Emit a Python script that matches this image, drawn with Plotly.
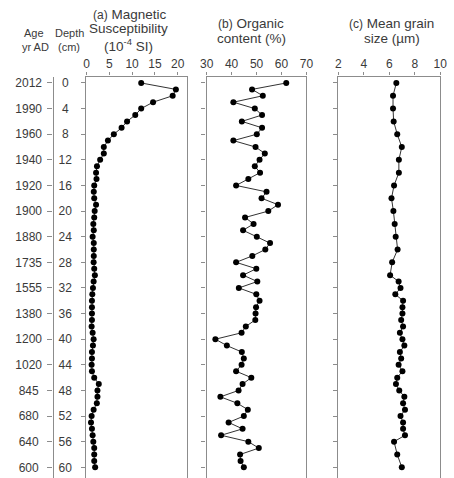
import plotly.graph_objects as go

# ---------------- data ----------------
depth = list(range(0, 61))

mag_sus = [12.0, 19.6, 18.9, 14.6, 12.0, 10.7, 8.9, 7.7, 6.0, 4.7,
           3.8, 3.8, 3.0, 2.3, 2.1, 2.2, 1.7, 1.6, 1.7, 2.1,
           1.8, 1.7, 1.5, 1.6, 1.35, 1.6, 1.6, 1.6, 1.57, 1.7,
           1.84, 1.57, 1.42, 1.28, 1.2, 1.2, 1.2, 1.2, 1.13, 1.35,
           1.57, 1.42, 1.2, 1.2, 1.13, 1.2, 1.7, 2.7, 2.41, 2.41,
           2.27, 1.57, 1.13, 0.99, 1.2, 1.35, 1.5, 1.7, 1.7, 1.7, 1.9]

organic = [61.9, 48.2, 52.5, 40.7, 49.3, 52.2, 44.1, 52.2, 50.1, 40.7,
           49.6, 53.3, 51.2, 49.3, 51.4, 46.7, 41.8, 54.0, 52.0, 58.6,
           54.7, 45.4, 48.8, 44.6, 50.1, 55.4, 53.5, 48.3, 41.8, 49.9,
           44.6, 50.3, 42.9, 49.9, 51.2, 49.8, 49.6, 49.5, 45.7, 44.0,
           33.5, 38.1, 44.1, 44.9, 44.0, 41.8, 47.9, 44.4, 42.8, 35.5,
           42.3, 46.5, 44.9, 38.8, 44.4, 35.8, 46.7, 50.9, 43.4, 43.6, 44.9]

grain_depth = [0, 2, 4, 6, 8, 10, 12, 14, 16, 18, 20, 22, 24, 26, 28, 30,
               31, 32, 33, 34, 35, 36, 37, 38, 39, 40, 41, 42, 43, 44, 45,
               46, 47, 48, 49, 50, 51, 52, 53, 54, 55, 56, 58, 60]
grain_size = [6.55, 6.29, 6.29, 6.34, 6.62, 6.98, 6.75, 6.75, 6.37, 6.17,
              6.32, 6.42, 6.5, 6.65, 6.22, 6.06,
              6.73, 6.88, 6.47, 7.08, 7.03, 7.03, 6.93, 7.08, 6.83, 7.03,
              7.18, 6.83, 6.93, 6.73, 7.03, 6.62, 6.52, 6.78, 7.18, 7.08,
              7.23, 6.88, 7.08, 7.08, 7.23, 6.37, 6.62, 6.98]

depth_ticks = [0, 4, 8, 12, 16, 20, 24, 28, 32, 36, 40, 44, 48, 52, 56, 60]
age_labels = ["2012", "1990", "1960", "1940", "1920", "1900", "1880", "1735",
              "1555", "1380", "1200", "1020", "845", "680", "640", "600"]

ticks_a = [0, 5, 10, 15, 20]
ticks_b = [30, 40, 50, 60, 70]
ticks_c = [2, 4, 6, 8, 10]

# ---------------- layout helpers ----------------
W, H = 454, 478
def px(x):
    return x / W
def py(y):
    return 1 - y / H

FONT = "Liberation Sans, Arial, sans-serif"
FRAME = "#8c8c8c"
TXT = "#3a3a3a"
y_range = [61.67, -1.01]
y_dom = [0, py(76.5)]

marker = dict(color="black", size=6)
line = dict(color="#333333", width=1)

fig = go.Figure()
fig.add_trace(go.Scatter(x=mag_sus, y=depth, xaxis="x", yaxis="y",
                         mode="lines+markers", marker=marker, line=line))
fig.add_trace(go.Scatter(x=organic, y=depth, xaxis="x2", yaxis="y2",
                         mode="lines+markers", marker=marker, line=line))
fig.add_trace(go.Scatter(x=grain_size, y=grain_depth, xaxis="x3", yaxis="y3",
                         mode="lines+markers", marker=marker, line=line))

def xax(dom, rng, tv, anchor):
    return dict(domain=[px(dom[0]), px(dom[1])], range=rng, tickvals=tv,
                side="top", anchor=anchor, showline=True, linecolor=FRAME,
                linewidth=1.3, ticks="outside", ticklen=3, tickcolor=FRAME,
                showgrid=False, zeroline=False, mirror=False,
                tickfont=dict(family=FONT, size=12, color=TXT))

def yax(anchor, labels):
    d = dict(domain=y_dom, range=y_range, tickvals=depth_ticks,
             anchor=anchor, showline=True, linecolor=FRAME, linewidth=1.3,
             mirror=True, ticks="outside", ticklen=4, tickcolor=FRAME,
             showgrid=False, zeroline=False,
             tickfont=dict(family=FONT, size=12, color=TXT))
    if labels is None:
        d["showticklabels"] = False
    else:
        d["ticktext"] = labels
        d["ticklabelstandoff"] = 7
    return d

depth_text = [(str(d) + "\u00a0") if d < 10 else str(d) for d in depth_ticks]
age_text = [(a + "\u00a0") if len(a) == 3 else a for a in age_labels]

fig.update_layout(
    width=W, height=H, margin=dict(l=0, r=0, t=0, b=0),
    paper_bgcolor="white", plot_bgcolor="white", showlegend=False,
    xaxis=xax((82, 186), [0, 22.1], ticks_a, "y"),
    xaxis2=xax((206, 309), [30, 70], ticks_b, "y2"),
    xaxis3=xax((342, 447), [2, 10], ticks_c, "y3"),
    yaxis=yax("x", depth_text),
    yaxis2=yax("x2", None),
    yaxis3=yax("x3", None),
    yaxis4=dict(overlaying="y", anchor="free", position=px(47), side="left",
                range=y_range, tickvals=depth_ticks, ticktext=age_text,
                showline=True, linecolor=FRAME, linewidth=1.3,
                ticks="outside", ticklen=5, tickcolor=FRAME,
                ticklabelstandoff=3,
                showgrid=False, zeroline=False,
                tickfont=dict(family=FONT, size=12, color=TXT)),
)
# dummy trace so the age axis is drawn
fig.add_trace(go.Scatter(x=[None], y=[None], xaxis="x", yaxis="y4",
                         mode="markers", hoverinfo="skip"))

def ann(text, x, y, size):
    fig.add_annotation(text=text, x=px(x), y=py(y), xref="paper", yref="paper",
                       xanchor="center", yanchor="middle", showarrow=False,
                       font=dict(family=FONT, size=size, color=TXT))

ann("<span style='font-size:12px'>(a)</span> Magnetic", 126, 14, 13.5)
ann("Susceptibility", 125, 28, 13.5)
ann("(10<sup>-4</sup> SI)", 125, 45, 13.5)
ann("<span style='font-size:12px'>(b)</span> Organic", 252, 23, 13.5)
ann("content (%)", 252, 38, 13.5)
ann("<span style='font-size:12px'>(c)</span> Mean grain", 397, 23, 13.5)
ann("size (\u00b5m)", 397, 38, 13.5)
ann("Age", 28, 33, 11)
ann("yr AD", 29, 47, 11)
ann("Depth", 65, 33, 11)
ann("(cm)", 64, 47, 11)

fig.write_html("out.html")
